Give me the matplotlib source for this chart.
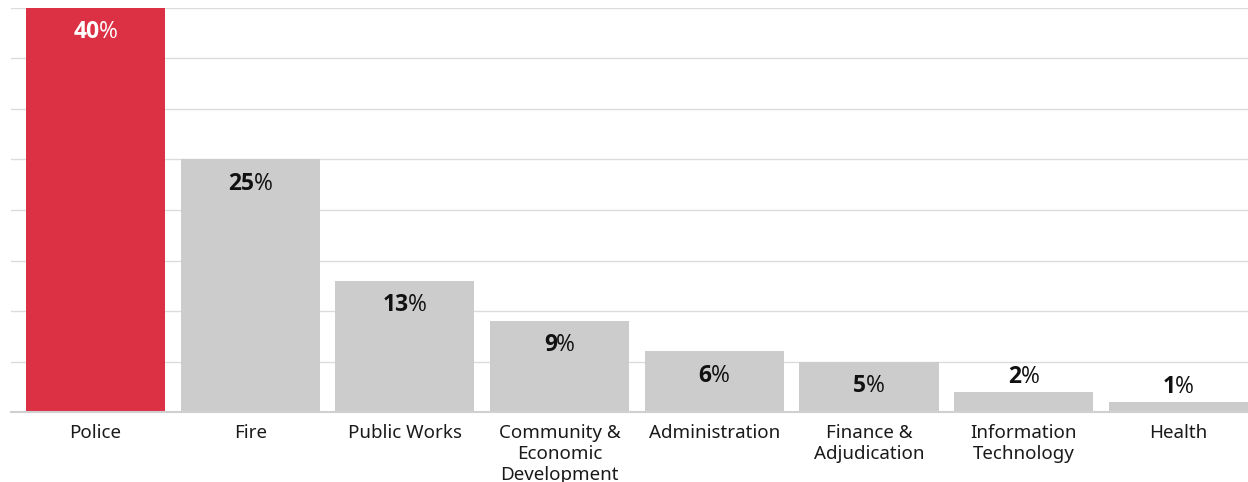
import matplotlib
matplotlib.use("Agg")
import matplotlib.pyplot as plt

# Dados do gráfico
departamentos = ["Police", "Fire", "Public Works", "Community &\nEconomic\nDevelopment",
                 "Administration", "Finance &\nAdjudication", "Information\nTechnology", "Health"]
percentagens = [40, 25, 13, 9, 6, 5, 2, 1]
cores = ["#dc3045"] + ["#cccccc"] * 7


def main():
    plt.rcParams["font.family"] = ["Noto Sans", "DejaVu Sans"]

    fig = plt.figure(figsize=(12.48, 4.82), dpi=100)
    ax = fig.add_axes([11 / 1248, 1 - 412 / 482, 1 - 11 / 1248, (412 - 8) / 482])

    x = list(range(len(departamentos)))
    barras = ax.bar(x, percentagens, width=0.9, color=cores, zorder=2)

    # grelha horizontal
    ax.set_ylim(0, 40)
    ax.set_xlim(-0.546, 7.45)
    ax.set_yticks(range(0, 41, 5))
    ax.yaxis.grid(True, color="#dcdcdc", linewidth=1, zorder=0)
    ax.tick_params(axis="y", length=0, labelleft=False)
    ax.tick_params(axis="x", length=0, pad=9)
    ax.set_xticks(x)
    ax.set_xticklabels(departamentos, fontsize=13.5, color="#1a1a1a", linespacing=1.2, va="top")
    for s in ["top", "right", "left"]:
        ax.spines[s].set_visible(False)
    ax.spines["bottom"].set_color("#d0d0d0")
    ax.spines["bottom"].set_linewidth(1.5)

    # valores nas barras (número a negrito, % normal)
    fonte = ["Open Sans", "DejaVu Sans"]
    pares = []
    for i, (b, v) in enumerate(zip(barras, percentagens)):
        cor = "white" if i == 0 else "#111111"
        off = -17.5 if v >= 5 else 10.5
        cx = b.get_x() + b.get_width() / 2
        t1 = ax.annotate(f"{v}", (cx, v), xytext=(0, off), textcoords="offset points",
                         ha="right", va="center", fontsize=16.5, fontweight="bold",
                         family=fonte, color=cor, zorder=3)
        t2 = ax.annotate("%", (cx, v), xytext=(0, off), textcoords="offset points",
                         ha="left", va="center", fontsize=16.5,
                         family=fonte, color=cor, zorder=3)
        pares.append((t1, t2, off))

    # centrar o conjunto número + %
    fig.canvas.draw()
    r = fig.canvas.get_renderer()
    for t1, t2, off in pares:
        w1 = t1.get_window_extent(r).width
        w2 = t2.get_window_extent(r).width
        dx = (w1 - w2) / 2 * 72 / fig.dpi
        t1.xyann = (dx + 0.2, off)
        t2.xyann = (dx - 0.2, off)

    fig.savefig("out.png", dpi=100)


if __name__ == "__main__":
    main()
